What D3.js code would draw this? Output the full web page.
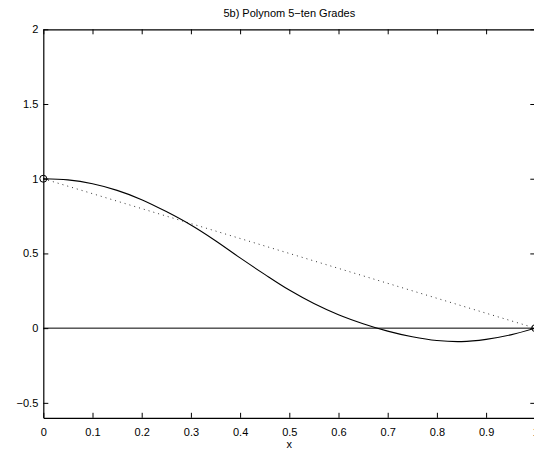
<!DOCTYPE html>
<html><head><meta charset="utf-8">
<script src="https://cdn.jsdelivr.net/npm/d3@7"></script>
<style>body{margin:0;background:#fff}svg{display:block}text{font-family:"Liberation Sans",Arial,Helvetica,sans-serif;font-size:11px;fill:#000}</style>
</head><body><svg id="c" width="534" height="453"></svg>
<script>
const titleText = "5b) Polynom 5\u2212ten Grades";
const xLabel = "x";
const xTicks = [0,0.1,0.2,0.3,0.4,0.5,0.6,0.7,0.8,0.9,1];
const yTicks = [-0.5,0,0.5,1,1.5,2];
const polyX = [0,0.05,0.1,0.15,0.2,0.25,0.3,0.35,0.4,0.45,0.5,0.55,0.6,0.65,0.7,0.75,0.8,0.85,0.9,0.95,1];
const polyY = [1.0,0.992,0.966,0.922,0.86,0.78,0.69,0.585,0.47,0.36,0.255,0.165,0.09,0.03,-0.02,-0.058,-0.083,-0.09,-0.075,-0.045,0];
const lineX = [0,1];
const lineY = [1,0];
const nodeX = [0,1];
const nodeY = [1,0];
const zeroX = [0,1];
const zeroY = [0,0];

const svg = d3.select("#c");
const L=43.3, R=535.3, T=29.3, B=417.8;
const x = d3.scaleLinear().domain([0,1]).range([L,R]);
const y = d3.scaleLinear().domain([-0.6,2]).range([B,T]);
const g = svg.append("g");
const fmt = d=> d<0 ? "\u2212"+Math.abs(d) : String(d);

// curves
const line = d3.line().x(d=>x(d[0])).y(d=>y(d[1]));
g.append("path").attr("d", line(zeroX.map((v,i)=>[v,zeroY[i]]))).attr("fill","none").attr("stroke","#000").attr("stroke-width",1);
g.append("path").attr("d", line(lineX.map((v,i)=>[v,lineY[i]]))).attr("fill","none").attr("stroke","#333").attr("stroke-width",1).attr("stroke-dasharray","1,4");
g.append("path").attr("d", d3.line().x(d=>x(d[0])).y(d=>y(d[1])).curve(d3.curveCatmullRom)(polyX.map((v,i)=>[v,polyY[i]]))).attr("fill","none").attr("stroke","#000").attr("stroke-width",1.1);
g.selectAll("circle.n").data(nodeX.map((v,i)=>[v,nodeY[i]])).enter().append("circle")
 .attr("cx",d=>x(d[0])).attr("cy",d=>y(d[1])).attr("r",3.5).attr("fill","none").attr("stroke","#000").attr("stroke-width",1);

// axes
const ax = (gen, tr, tickVals, fmtF) => {
  const a = g.append("g").attr("transform",tr).call(gen.tickValues(tickVals).tickFormat(fmtF).tickSizeOuter(0));
  a.select(".domain").attr("stroke","#000").attr("stroke-width",1.2);
  a.selectAll(".tick line").attr("stroke","#000");
  return a;
};
const bx = ax(d3.axisBottom(x).tickSize(-5).tickPadding(10), `translate(0,${B})`, xTicks, d=>String(d));
bx.selectAll("text").attr("font-size",11).attr("font-family","Liberation Sans, Arial, sans-serif").attr("fill","#000");
const tx = ax(d3.axisTop(x).tickSize(-5), `translate(0,${T})`, xTicks, ()=>"");
const ly = ax(d3.axisLeft(y).tickSize(-5).tickPadding(5), `translate(${L},0)`, yTicks, fmt);
ly.selectAll("text").attr("font-size",11).attr("font-family","Liberation Sans, Arial, sans-serif").attr("fill","#000");
const ry = ax(d3.axisRight(y).tickSize(-5), `translate(${R},0)`, yTicks, ()=>"");

svg.append("text").attr("x",(L+R)/2).attr("y",17).attr("text-anchor","middle").text(titleText);
svg.append("text").attr("x",(L+R)/2).attr("y",448).attr("text-anchor","middle").text(xLabel);
</script></body></html>
